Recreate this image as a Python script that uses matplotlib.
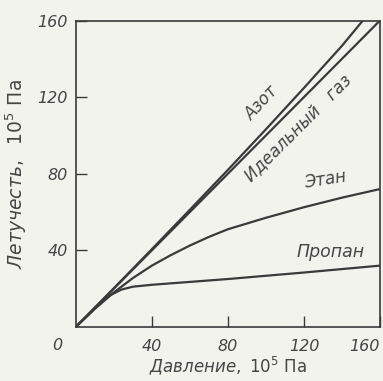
import matplotlib
matplotlib.use("Agg")
import matplotlib.pyplot as plt

# values (pressure, fugacity), 10^5 Pa
ideal_p = [0, 160]
ideal_f = [0, 160]

azot_p = [0, 20, 40, 60, 80, 100, 120, 140, 151]
azot_f = [0, 20.2, 40.6, 61.2, 82.0, 103.2, 124.8, 146.8, 160]

etan_p = [0, 10, 20, 30, 40, 50, 60, 70, 80, 100, 120, 140, 160]
etan_f = [0, 9.5, 18.0, 25.5, 32.0, 37.5, 42.5, 47.0, 51.0, 57.0, 62.5, 67.5, 72.0]

propan_p = [0, 10, 18, 24, 30, 40, 60, 80, 100, 120, 140, 160]
propan_f = [0, 9.5, 16.5, 19.5, 21.0, 22.0, 23.5, 25.0, 26.7, 28.4, 30.2, 32.0]

x_ticks = [40, 80, 120, 160]
y_ticks = [40, 80, 120, 160]

ink = "#3a3a3a"
txt = "#454545"
paper = "#f3f3ee"
plt.rcParams["mathtext.fontset"] = "dejavusans"

fig = plt.figure(figsize=(3.83, 3.81), dpi=100, facecolor=paper)
ax = fig.add_axes([0.198, 0.142, 0.794, 0.804], facecolor=paper)

for p, f in [(ideal_p, ideal_f), (azot_p, azot_f), (etan_p, etan_f), (propan_p, propan_f)]:
    ax.plot(p, f, color=ink, lw=1.6, solid_capstyle="butt")

ax.set_xlim(0, 160)
ax.set_ylim(0, 160)
for s in ax.spines.values():
    s.set_color(ink)
    s.set_linewidth(1.2)

ax.set_xticks(x_ticks)
ax.set_yticks(y_ticks)
ax.tick_params(direction="in", length=8, width=1.0, color=ink,
               labelcolor=txt, labelsize=11.5, pad=6)
ax.tick_params(axis="x", pad=9)
for lab in ax.get_xticklabels() + ax.get_yticklabels():
    lab.set_fontstyle("italic")
ax.get_xticklabels()[-1].set_horizontalalignment("right")
ax.get_xticklabels()[-1].set_x(161)
ax.text(-7, -6, "0", ha="right", va="top", fontsize=11.5, style="italic", color=txt)

ax.set_xlabel(r"$\mathit{Давление,\ 10^{5}}\ \mathrm{Па}$", fontsize=12, color=txt, labelpad=0)
ax.set_ylabel(r"$\mathit{Летучесть,\ \ 10^{5}}\ \mathrm{Па}$", fontsize=13.5, color=txt, labelpad=6)

ax.text(98, 117, "Азот", rotation=47, fontsize=12, style="italic", color=txt,
        ha="center", va="center")
ax.text(117, 104, "Идеальный   газ", rotation=45, fontsize=12, style="italic", color=txt,
        ha="center", va="center")
ax.text(131, 77, "Этан", rotation=9, fontsize=12, style="italic", color=txt,
        ha="center", va="center")
ax.text(134, 39, "Пропан", rotation=0, fontsize=12.5, style="italic", color=txt,
        ha="center", va="center")

fig.savefig("out.png", dpi=100, facecolor=paper)
